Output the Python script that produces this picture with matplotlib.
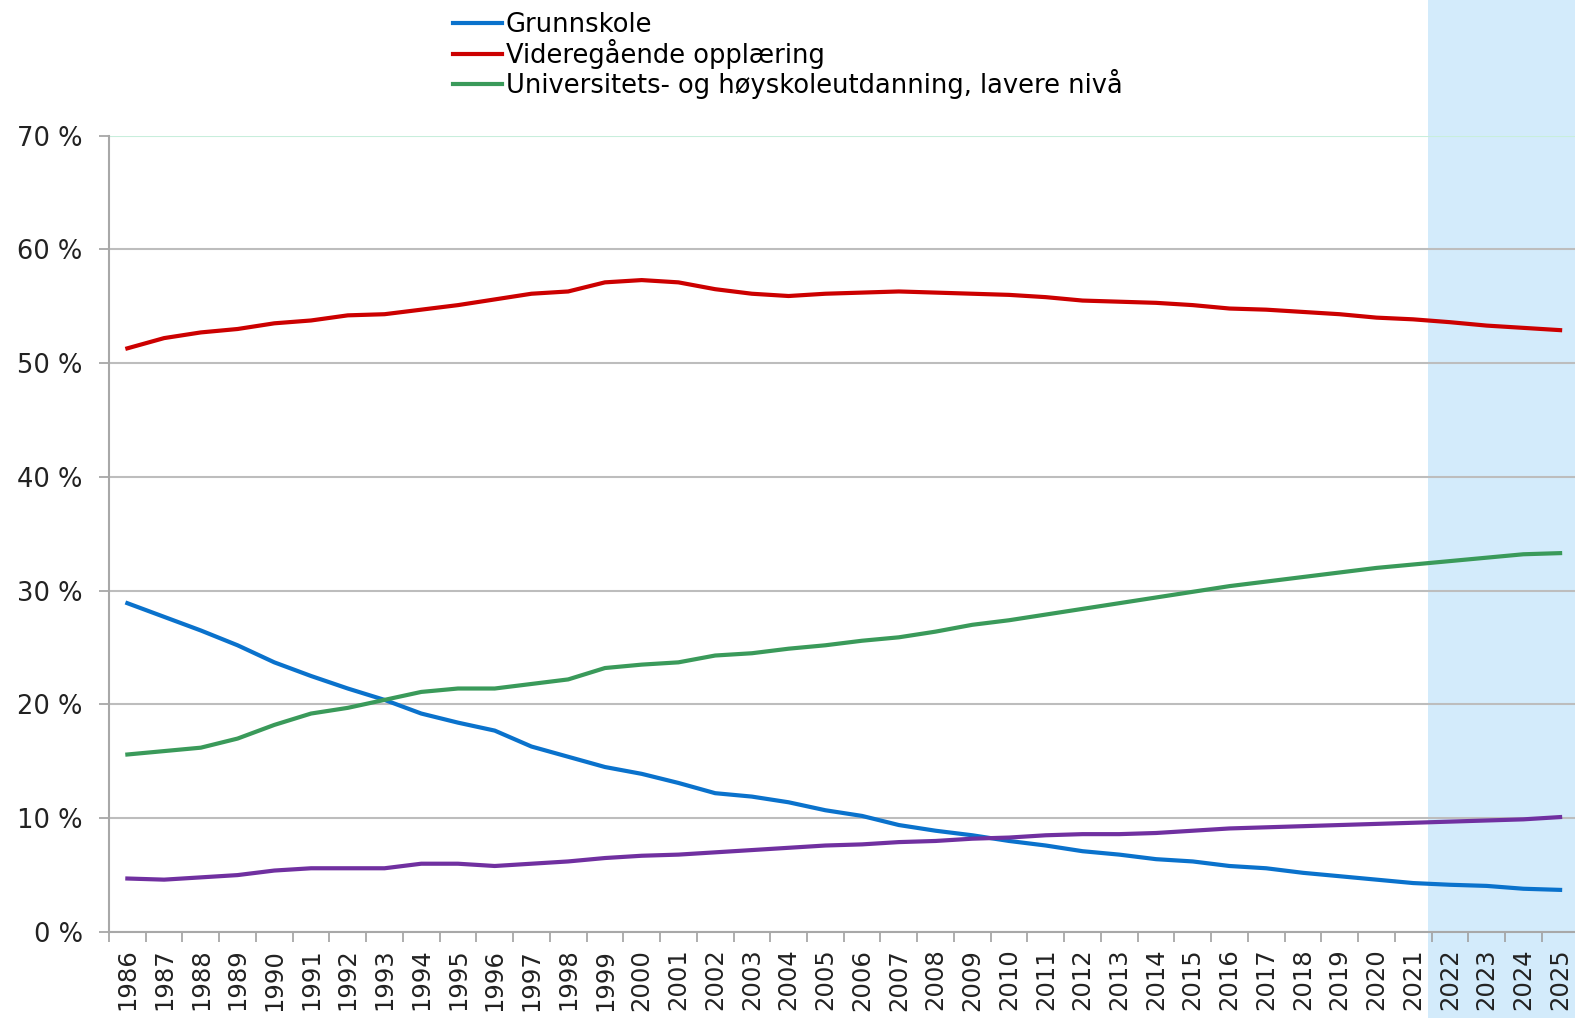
import numpy as np
import matplotlib
matplotlib.use("Agg")
import matplotlib.pyplot as plt
from matplotlib.patches import Rectangle
from matplotlib.transforms import blended_transform_factory

# Data (share of population, %)
years = list(range(1986, 2026))

grunnskole = [28.9, 27.7, 26.5, 25.2, 23.7, 22.5, 21.4, 20.4, 19.2, 18.4,
              17.7, 16.3, 15.4, 14.5, 13.9, 13.1, 12.2, 11.9, 11.4, 10.7,
              10.2, 9.4, 8.9, 8.5, 8.0, 7.6, 7.1, 6.8, 6.4, 6.2,
              5.8, 5.6, 5.2, 4.9, 4.6, 4.3, 4.15, 4.05, 3.8, 3.7]

videregaende = [51.3, 52.2, 52.7, 53.0, 53.5, 53.75, 54.2, 54.3, 54.7, 55.1,
                55.6, 56.1, 56.3, 57.1, 57.3, 57.1, 56.5, 56.1, 55.9, 56.1,
                56.2, 56.3, 56.2, 56.1, 56.0, 55.8, 55.5, 55.4, 55.3, 55.1,
                54.8, 54.7, 54.5, 54.3, 54.0, 53.85, 53.6, 53.3, 53.1, 52.9]

uni_lavere = [15.6, 15.9, 16.2, 17.0, 18.2, 19.2, 19.7, 20.4, 21.1, 21.4,
              21.4, 21.8, 22.2, 23.2, 23.5, 23.7, 24.3, 24.5, 24.9, 25.2,
              25.6, 25.9, 26.4, 27.0, 27.4, 27.9, 28.4, 28.9, 29.4, 29.9,
              30.4, 30.8, 31.2, 31.6, 32.0, 32.3, 32.6, 32.9, 33.2, 33.3]

uni_hoyere = [4.7, 4.6, 4.8, 5.0, 5.4, 5.6, 5.6, 5.6, 6.0, 6.0,
              5.8, 6.0, 6.2, 6.5, 6.7, 6.8, 7.0, 7.2, 7.4, 7.6,
              7.7, 7.9, 8.0, 8.2, 8.3, 8.5, 8.6, 8.6, 8.7, 8.9,
              9.1, 9.2, 9.3, 9.4, 9.5, 9.6, 9.7, 9.8, 9.9, 10.1]

labels = ["Grunnskole", "Videregående opplæring",
          "Universitets- og høyskoleutdanning, lavere nivå"]
projection_start = 2022  # shaded forecast period

x = np.arange(len(years))

fig = plt.figure(figsize=(15.75, 10.18), dpi=100)
ax = fig.add_axes([0.0692, 0.0845, 0.933, 0.7823])
ax.set_facecolor("none")

# Forecast shading, spans the full figure height
shade_x = years.index(projection_start) - 0.6
trans = blended_transform_factory(ax.transData, fig.transFigure)
ax.add_patch(Rectangle((shade_x, 0), 10, 1, transform=trans, clip_on=False,
                       facecolor="#D3EBFB", edgecolor="none", zorder=0))

lw = 3.0
l1, = ax.plot(x, grunnskole, color="#0A72CC", lw=lw, zorder=3)
l2, = ax.plot(x, videregaende, color="#CC0000", lw=lw, zorder=3)
l3, = ax.plot(x, uni_lavere, color="#3A9A5A", lw=lw, zorder=3)
ax.plot(x, uni_hoyere, color="#7030A0", lw=lw, zorder=3)

ax.set_xlim(-0.5, len(years) - 0.5)
ax.set_ylim(0, 70)
ax.set_yticks(range(0, 71, 10))
ax.set_yticklabels([f"{v} %" for v in range(0, 71, 10)], fontsize=18.5, color="#222222")

ax.set_xticks(x)
ax.set_xticklabels([str(y) for y in years], rotation=90, fontsize=17.5, color="#222222")
ax.set_xticks(np.arange(-0.5, len(years)), minor=True)
ax.tick_params(axis="x", which="major", length=0, pad=12)
ax.tick_params(axis="x", which="minor", length=7, color="#A0A0A0", width=1.2)
ax.tick_params(axis="y", length=7, color="#A0A0A0", width=1.2, pad=12)

ax.grid(axis="y", color="#BDBDBD", lw=1.5, zorder=1)
gl = ax.get_ygridlines()
gl[-1].set_color("#C8EEDC")
for s in ["top", "right"]:
    ax.spines[s].set_visible(False)
for s in ["left", "bottom"]:
    ax.spines[s].set_color("#A8A8A8")
    ax.spines[s].set_linewidth(1.5)

fig.legend([l1, l2, l3], labels, loc="upper left", bbox_to_anchor=(0.281, 0.998),
           frameon=False, fontsize=18.5, handlelength=1.9, handletextpad=0.15,
           labelspacing=0.02, borderaxespad=0)

fig.savefig("out.png", dpi=100)
